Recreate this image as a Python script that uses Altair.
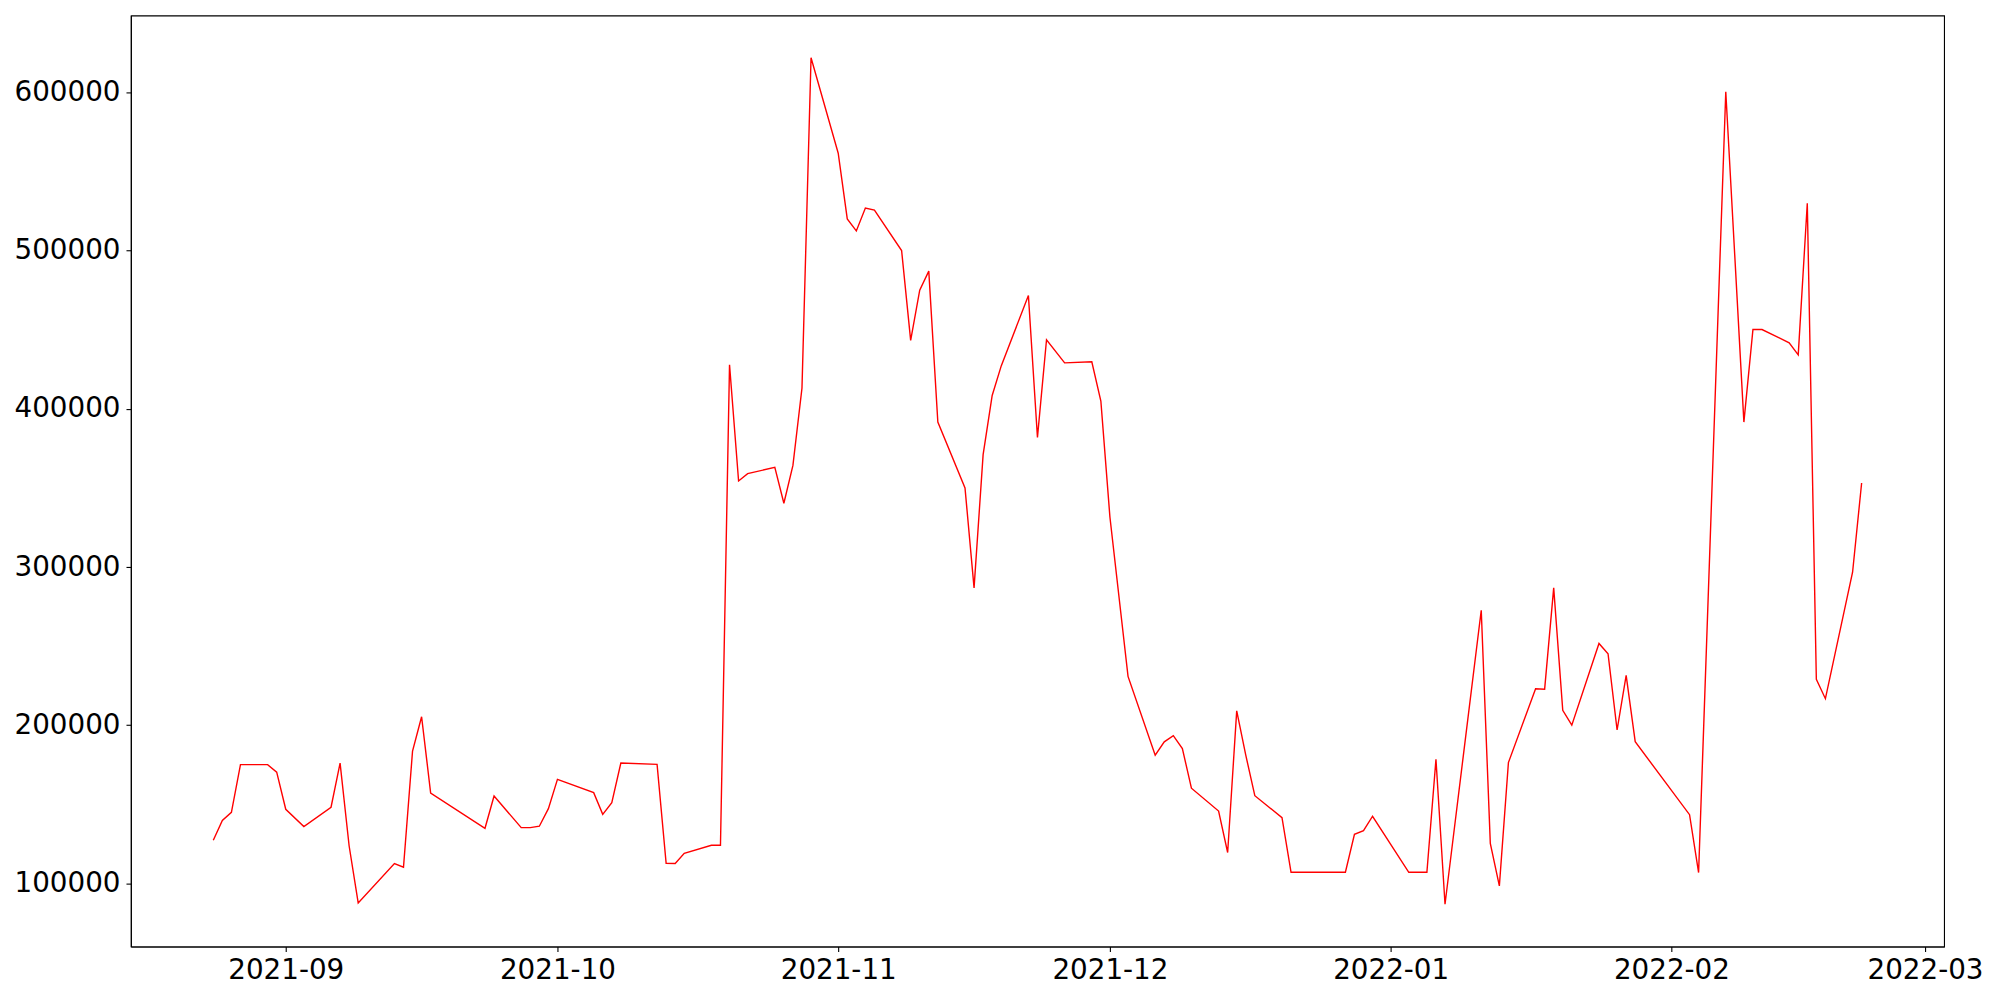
import altair as alt
import pandas as pd

dates = [
    "2021-08-24", "2021-08-25", "2021-08-26", "2021-08-27", "2021-08-30", "2021-08-31",
    "2021-09-01", "2021-09-03", "2021-09-06", "2021-09-07", "2021-09-08", "2021-09-09",
    "2021-09-13", "2021-09-14", "2021-09-15", "2021-09-16", "2021-09-17", "2021-09-23",
    "2021-09-24", "2021-09-27", "2021-09-28", "2021-09-29", "2021-09-30", "2021-10-01",
    "2021-10-05", "2021-10-06", "2021-10-07", "2021-10-08", "2021-10-12", "2021-10-13",
    "2021-10-14", "2021-10-15", "2021-10-18", "2021-10-19", "2021-10-20", "2021-10-21",
    "2021-10-22", "2021-10-25", "2021-10-26", "2021-10-27", "2021-10-28", "2021-10-29",
    "2021-11-01", "2021-11-02", "2021-11-03", "2021-11-04", "2021-11-05", "2021-11-08",
    "2021-11-09", "2021-11-10", "2021-11-11", "2021-11-12", "2021-11-15", "2021-11-16",
    "2021-11-17", "2021-11-18", "2021-11-19", "2021-11-22", "2021-11-23", "2021-11-24",
    "2021-11-26", "2021-11-29", "2021-11-30", "2021-12-01", "2021-12-03", "2021-12-06",
    "2021-12-07", "2021-12-08", "2021-12-09", "2021-12-10", "2021-12-13", "2021-12-14",
    "2021-12-15", "2021-12-16", "2021-12-17", "2021-12-20", "2021-12-21", "2021-12-27",
    "2021-12-28", "2021-12-29", "2021-12-30", "2022-01-03", "2022-01-05", "2022-01-06",
    "2022-01-07", "2022-01-11", "2022-01-12", "2022-01-13", "2022-01-14", "2022-01-17",
    "2022-01-18", "2022-01-19", "2022-01-20", "2022-01-21", "2022-01-24", "2022-01-25",
    "2022-01-26", "2022-01-27", "2022-01-28", "2022-02-03", "2022-02-04", "2022-02-07",
    "2022-02-09", "2022-02-10", "2022-02-11", "2022-02-14", "2022-02-15", "2022-02-16",
    "2022-02-17", "2022-02-18", "2022-02-21", "2022-02-22",
]

values = [
    127300, 139800, 145000, 175100, 175100, 170400,
    146900, 136000, 148200, 176100, 123700, 87700,
    112600, 110300, 183700, 205400, 157200, 134900,
    155300, 135300, 135300, 136200, 147300, 165800,
    157400, 143700, 151100, 176100, 175300, 112800,
    112600, 119100, 124200, 124200, 427800, 354400,
    359000, 363000, 340300, 364200, 413100, 621800,
    561500, 520000, 512400, 526900, 525500, 500000,
    443200, 475000, 487000, 391600, 350000, 286800,
    371000, 408400, 427100, 471600, 381900, 443600,
    429000, 429700, 404900, 331600, 230900, 181100,
    189500, 193400, 185300, 160200, 145800, 119600,
    209100, 181100, 155500, 141600, 107100, 107100,
    131100, 133400, 142500, 107100, 107100, 178500,
    86900, 272700, 125400, 98500, 176400, 223100,
    222800, 286800, 209400, 200100, 251700, 245200,
    197000, 231500, 189600, 143500, 106900, 600400,
    391600, 450100, 450100, 441700, 434100, 529900,
    229000, 216800, 296700, 353100,
]

x_ticks = ["2021-09-01", "2021-10-01", "2021-11-01", "2021-12-01",
           "2022-01-01", "2022-02-01", "2022-03-01"]
y_ticks = [100000, 200000, 300000, 400000, 500000, 600000]

df = pd.DataFrame({"date": dates, "value": values})

# matplotlib-like 5% margins
ts = pd.to_datetime(pd.Series(dates), utc=True)
t0, t1 = ts.min(), ts.max()
span = t1 - t0
xd0 = int((t0 - span * 0.05).value // 10**6)
xd1 = int((t1 + span * 0.05).value // 10**6)
vmin, vmax = min(values), max(values)
vr = vmax - vmin
yd0 = vmin - 0.05 * vr
yd1 = vmax + 0.05 * vr

tick_ms = [int(pd.Timestamp(t, tz="UTC").value // 10**6) for t in x_ticks]

FONT = "DejaVu Sans"
FS = 27.8

chart = (
    alt.Chart(df)
    .mark_line(color="#ff0000", strokeWidth=1.4, clip=True)
    .encode(
        x=alt.X(
            "date:T",
            scale=alt.Scale(type="utc", domain=[xd0, xd1], nice=False),
            axis=alt.Axis(
                title=None,
                values=tick_ms,
                format="%Y-%m",
                formatType="time",
                grid=False,
                labelFlush=False,
                labelOverlap=False,
                labelPadding=5,
            ),
        ),
        y=alt.Y(
            "value:Q",
            scale=alt.Scale(domain=[yd0, yd1], nice=False, zero=False),
            axis=alt.Axis(
                title=None,
                values=y_ticks,
                format="d",
                grid=False,
                labelPadding=6,
            ),
        ),
    )
    .properties(
        width=1815,
        height=932,
        padding={"left": 123, "top": 7, "right": 48, "bottom": 45},
        autosize=alt.AutoSizeParams(type="none"),
        background="white",
    )
    .configure_view(stroke="black", strokeWidth=1.1)
    .configure_axis(
        labelFont=FONT,
        labelFontSize=FS,
        labelColor="black",
        tickColor="black",
        tickSize=4.9,
        tickWidth=1.1,
        domainColor="black",
        domainWidth=1.1,
    )
)

chart.save("out.html", embed_options={"renderer": "svg", "actions": False})
